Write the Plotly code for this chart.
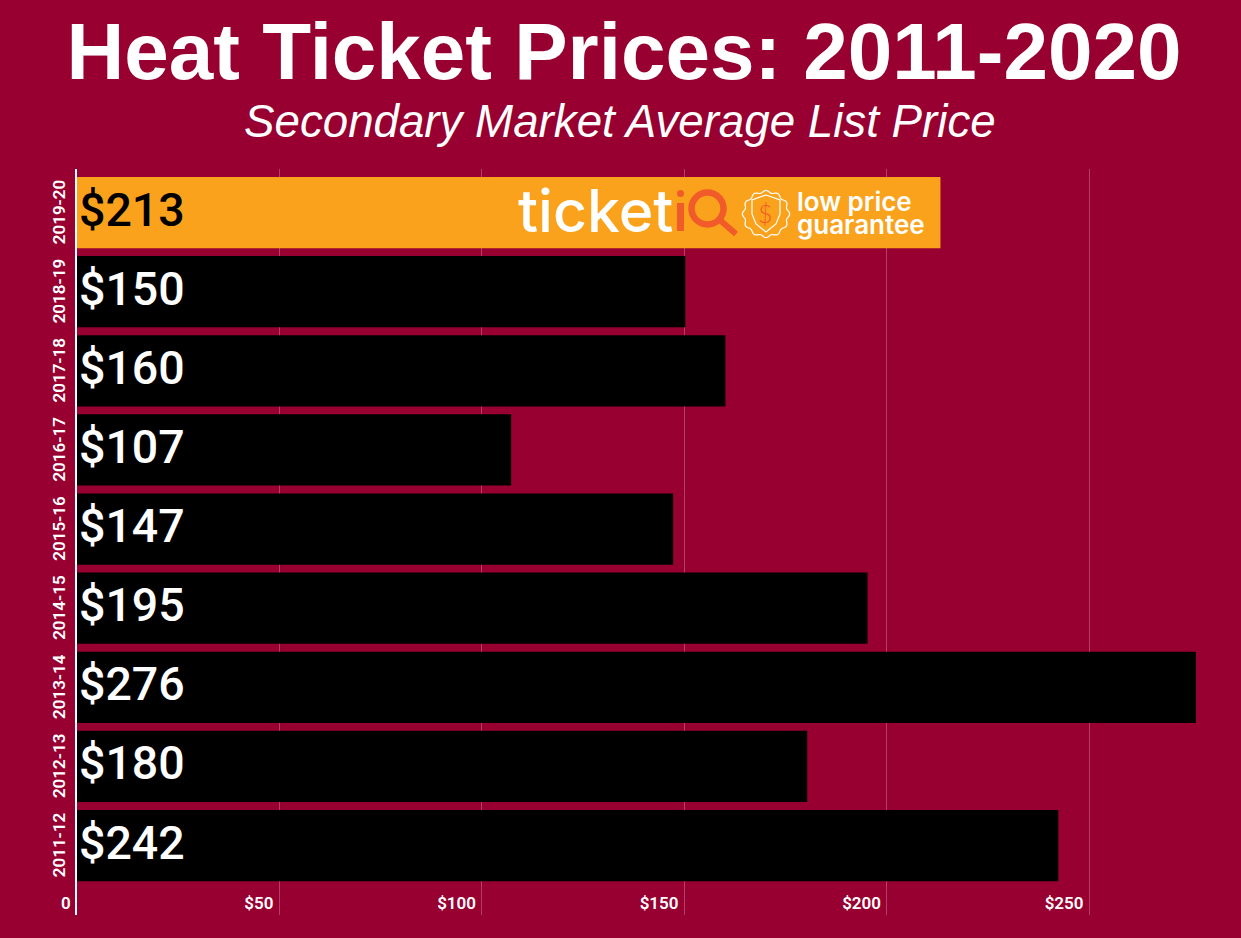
import math
import plotly.graph_objects as go

seasons = ["2011-12", "2012-13", "2013-14", "2014-15", "2015-16", "2016-17", "2017-18", "2018-19", "2019-20"]
prices = [242.3, 180.3, 276.3, 195.2, 147.2, 107.2, 160.1, 150.2, 213.2]
price_labels = ["$242", "$180", "$276", "$195", "$147", "$107", "$160", "$150", "$213"]
bar_colors = ["#000000"] * 8 + ["#FAA21B"]
text_colors = ["#FFFFFF"] * 8 + ["#000000"]
x_ticks = [50, 100, 150, 200, 250]
x_tick_labels = ["$50", "$100", "$150", "$200", "$250"]

W, H = 1241, 938
L, R, T, B = 77, 1196, 169, 915
BG = "#970030"
ORANGE = "#F15A29"


def px(x):
    return (x - L) / (R - L)


def py(y):
    return (B - y) / (B - T)


fig = go.Figure(go.Bar(
    y=seasons, x=prices, orientation="h",
    marker=dict(color=bar_colors, line_width=0),
    hoverinfo="skip",
))

annotations = [
    dict(text="<i>Secondary Market Average List Price</i>", x=px(620), y=py(121.6), showarrow=False,
         font=dict(family="Liberation Sans", size=45.7, color="white"), xanchor="center", yanchor="middle"),
    dict(text="0", x=0, y=py(903), xshift=-4, showarrow=False, xanchor="right", yanchor="middle",
         font=dict(family="Roboto", size=17, color="white", weight=600)),
    dict(text="ticket", x=px(516), y=py(210), showarrow=False, xanchor="left", yanchor="middle",
         font=dict(family="Inter", size=59, color="white", weight=500)),
    dict(text="$", x=px(765), y=py(213), showarrow=False, xanchor="center", yanchor="middle",
         font=dict(family="Lato", size=25, color=ORANGE, weight=300)),
    dict(text="low price", x=px(795), y=py(201), showarrow=False, xanchor="left", yanchor="middle",
         font=dict(family="Inter", size=26, color="white", weight=600)),
    dict(text="guarantee", x=px(795), y=py(224), showarrow=False, xanchor="left", yanchor="middle",
         font=dict(family="Inter", size=26, color="white", weight=600)),
]
for a in annotations:
    a.update(xref="paper", yref="paper")

for season, label, colour in zip(seasons, price_labels, text_colors):
    annotations.append(dict(
        text=label, xref="x", yref="y", x=0, y=season, xshift=0, yshift=3, showarrow=False,
        xanchor="left", yanchor="middle",
        font=dict(family="Roboto", size=46.5, color=colour, weight=500),
    ))


def path(points, close=True):
    s = "M " + " L ".join(f"{px(x):.5f},{py(y):.5f}" for x, y in points)
    return s + (" Z" if close else "")


seal = []
for k in range(96):
    t = 2 * math.pi * k / 96
    r = 22.5 + 1.2 * math.cos(12 * t)
    seal.append((766 + r * math.cos(t), 214 + r * math.sin(t)))
shield = [(766, 195), (780, 200), (780, 214), (776, 224), (766, 232), (756, 224), (752, 214), (752, 200)]

shapes = [
    dict(type="rect", x0=px(677), x1=px(684), y0=py(203), y1=py(231), fillcolor=ORANGE, line_width=0),
    dict(type="circle", x0=px(677), x1=px(684), y0=py(190), y1=py(197), fillcolor=ORANGE, line_width=0),
    dict(type="circle", x0=px(691.5), x1=px(723.5), y0=py(192.5), y1=py(224.5), line=dict(color=ORANGE, width=6.5)),
    dict(type="line", x0=px(721), x1=px(736), y0=py(221), y1=py(234), line=dict(color=ORANGE, width=6)),
    dict(type="path", path=path(seal), line=dict(color="white", width=1.2)),
    dict(type="path", path=path(shield), line=dict(color="white", width=1.2)),
]
for s in shapes:
    s.update(xref="paper", yref="paper", layer="above")

fig.update_layout(
    width=W, height=H, autosize=False,
    margin=dict(l=L, r=W - R, t=T, b=H - B),
    paper_bgcolor=BG, plot_bgcolor=BG, showlegend=False,
    bargap=0.1,
    title=dict(text="<b>Heat Ticket Prices: 2011-2020</b>", x=624 / W, xanchor="center",
               xref="container", y=1 - 51 / H, yanchor="middle",
               font=dict(family="Liberation Sans", size=80, color="white")),
    xaxis=dict(range=[0, 276.3], tickmode="array", tickvals=x_ticks, ticktext=x_tick_labels,
               ticklabelposition="inside left", ticklabelshift=-6, ticklabelstandoff=-3,
               ticks="", showline=False, zeroline=False,
               showgrid=True, gridcolor="rgba(255,255,255,0.25)", gridwidth=1,
               tickfont=dict(family="Roboto", size=17, color="white", weight=600)),
    yaxis=dict(type="category", categoryorder="array", categoryarray=seasons, range=[-0.878, 8.55],
               showgrid=False, zeroline=False, showline=True, linecolor="white", linewidth=2,
               ticks="", ticklabelstandoff=3, ticklabelshift=2, tickangle=-90,
               tickfont=dict(family="Roboto", size=17, color="white", weight=600)),
    annotations=annotations, shapes=shapes,
)

fig.write_html("out.html", config={"displayModeBar": False},
               post_script="document.body.style.margin='0';document.body.style.background='#970030';")
